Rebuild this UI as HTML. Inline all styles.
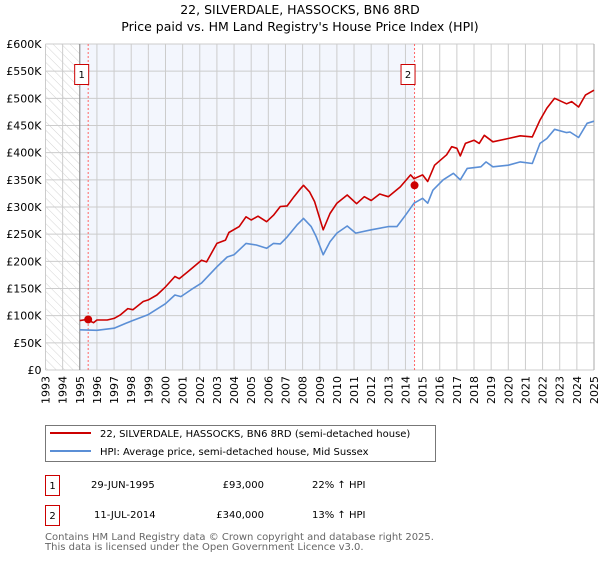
<!DOCTYPE html>
<html><head><meta charset="utf-8"><style>
body{margin:0;background:#fff;width:600px;height:560px;overflow:hidden;font-family:"DejaVu Sans","Liberation Sans",sans-serif}
svg text{font-family:"DejaVu Sans","Liberation Sans",sans-serif}
</style></head><body>
<svg id="chart" width="600" height="560" viewBox="0 0 600 560" xmlns="http://www.w3.org/2000/svg">
<defs><pattern id="hatch" patternUnits="userSpaceOnUse" width="6" height="6" patternTransform="rotate(-45)"><line x1="0" y1="0" x2="0" y2="6" stroke="#d4d4d4" stroke-width="1"/></pattern></defs>
<text x="300" y="14" text-anchor="middle" font-size="12.5">22, SILVERDALE, HASSOCKS, BN6 8RD</text>
<text x="300" y="31" text-anchor="middle" font-size="12.5">Price paid vs. HM Land Registry's House Price Index (HPI)</text>
<g id="plot"></g>
<rect x="45.5" y="425.5" width="390" height="36" fill="#fff" stroke="#777"/>
<line x1="50" y1="433" x2="91" y2="433" stroke="#cc0000" stroke-width="2"/>
<text x="100" y="437" font-size="10">22, SILVERDALE, HASSOCKS, BN6 8RD (semi-detached house)</text>
<line x1="50" y1="451" x2="91" y2="451" stroke="#5b8fd6" stroke-width="2"/>
<text x="100" y="455" font-size="10">HPI: Average price, semi-detached house, Mid Sussex</text>
<g font-size="10">
<rect x="45.5" y="475.5" width="14" height="20" fill="#fff" stroke="#cc0000"/>
<text x="52.5" y="489" text-anchor="middle">1</text>
<text x="91" y="488">29-JUN-1995</text>
<text x="264" y="488" text-anchor="end">£93,000</text>
<text x="312" y="488">22% ↑ HPI</text>
</g>
<g font-size="10">
<rect x="45.5" y="505.5" width="14" height="20" fill="#fff" stroke="#cc0000"/>
<text x="52.5" y="519" text-anchor="middle">2</text>
<text x="94" y="518">11-JUL-2014</text>
<text x="264" y="518" text-anchor="end">£340,000</text>
<text x="312" y="518">13% ↑ HPI</text>
</g>
<text x="45" y="540" font-size="10" fill="#666">Contains HM Land Registry data © Crown copyright and database right 2025.</text>
<text x="45" y="550" font-size="10" fill="#666">This data is licensed under the Open Government Licence v3.0.</text>
</svg>
<script>
const yTicks=[0,50,100,150,200,250,300,350,400,450,500,550,600];
const yTickLabels=["£0","£50K","£100K","£150K","£200K","£250K","£300K","£350K","£400K","£450K","£500K","£550K","£600K"];
const years=[1993,1994,1995,1996,1997,1998,1999,2000,2001,2002,2003,2004,2005,2006,2007,2008,2009,2010,2011,2012,2013,2014,2015,2016,2017,2018,2019,2020,2021,2022,2023,2024,2025];
const hpiT=[1995.0,1996.0,1997.0,1998.0,1999.0,2000.0,2000.55,2000.9,2001.5,2002.1,2003.0,2003.6,2004.0,2004.7,2005.3,2005.9,2006.3,2006.7,2007.1,2007.7,2008.05,2008.5,2008.8,2009.2,2009.6,2010.0,2010.6,2011.1,2012.0,2013.0,2013.5,2014.0,2014.5,2015.0,2015.3,2015.6,2016.2,2016.8,2017.2,2017.6,2018.4,2018.7,2019.1,2020.0,2020.7,2021.4,2021.85,2022.25,2022.7,2023.4,2023.6,2024.1,2024.6,2025.0];
const hpiV=[74,73,77,90,102,122,138,135,148,160,190,208,212,233,230,224,233,232,245,268,279,264,245,212,236,252,265,252,258,264,264,285,307,316,307,331,350,362,350,371,374,383,374,377,383,380,417,426,443,437,438,428,454,458];
const ppT=[1995.0,1995.4,1995.8,1996.0,1996.6,1997.0,1997.35,1997.8,1998.1,1998.7,1999.0,1999.5,2000.0,2000.55,2000.8,2001.3,2002.1,2002.4,2003.0,2003.5,2003.7,2004.3,2004.7,2005.0,2005.4,2005.9,2006.3,2006.7,2007.1,2007.5,2007.8,2008.05,2008.4,2008.7,2009.2,2009.6,2010.0,2010.6,2011.15,2011.6,2012.0,2012.5,2013.0,2013.7,2014.3,2014.5,2015.0,2015.3,2015.7,2016.4,2016.7,2017.0,2017.2,2017.5,2018.0,2018.3,2018.6,2019.1,2020.0,2020.7,2021.4,2021.85,2022.25,2022.7,2023.4,2023.7,2024.1,2024.5,2025.0];
const ppV=[91,93,87,92,92,95,101,113,111,126,129,138,153,172,168,181,202,199,233,239,253,264,282,276,283,273,285,301,302,319,331,340,328,310,258,288,307,322,306,319,312,324,319,337,359,352,359,347,377,396,411,408,394,417,423,417,432,420,426,431,429,460,482,500,490,494,484,506,515];
const sales=[{t:1995.49,v:93,label:"1"},{t:2014.53,v:340,label:"2"}];

const NS="http://www.w3.org/2000/svg";
const L=45.5,R=594,T=44,B=370;
const x=t=>L+(t-1993)/32*(R-L);
const y=v=>B-v/600*(B-T);
const g=document.getElementById('plot');
function el(tag,attrs,parent){const e=document.createElementNS(NS,tag);for(const k in attrs)e.setAttribute(k,attrs[k]);(parent||g).appendChild(e);return e;}
let r=el('rect',{x:L,y:T,width:R-L,height:B-T,fill:'#fff'});


r=el('rect',{x:x(1995),y:T,width:x(sales[1].t)-x(1995),height:B-T,fill:'#f3f6fd'});


r=el('rect',{x:L,y:T,width:x(1995)-L,height:B-T,fill:'url(#hatch)'});


years.forEach(yr=>{
  const l=el('line',{x1:x(yr),x2:x(yr),y1:T,y2:B,stroke:'#ccc','stroke-width':1});
  
  
  const tx=el('text',{x:0,y:0,'font-size':11,'text-anchor':'end',transform:`translate(${x(yr)+4},${B+6}) rotate(-90)`});
  tx.textContent=yr;
  
  
});
yTicks.forEach((v,i)=>{
  const l=el('line',{x1:L,x2:R,y1:y(v),y2:y(v),stroke:'#ccc','stroke-width':1});
  
  
  const tx=el('text',{x:L-4,y:y(v)+4,'font-size':11,'text-anchor':'end'});
  tx.textContent=yTickLabels[i];
  
  
});
let al=el('line',{x1:x(1995),x2:x(1995),y1:T,y2:B,stroke:'#888','stroke-width':1});


al=el('line',{x1:R,x2:R,y1:T,y2:B,stroke:'#aaa','stroke-width':1});


sales.forEach(s=>{
  const l=el('line',{x1:x(s.t),x2:x(s.t),y1:T,y2:B,stroke:'#ff6666','stroke-width':1,'stroke-dasharray':'2,2'});
  
  
});
function path(ts,vs,color,name){
  const d=ts.map((t,i)=>(i?'L':'M')+x(t).toFixed(1)+','+y(vs[i]).toFixed(1)).join('');
  const p=el('path',{d:d,fill:'none',stroke:color,'stroke-width':1.6,'stroke-linejoin':'round'});
  
  
}
path(hpiT,hpiV,'#5b8fd6','hpi-line');
path(ppT,ppV,'#cc0000','price-paid-line');
sales.forEach(s=>{
  const c=el('circle',{cx:x(s.t),cy:y(s.v),r:4,fill:'#cc0000'});
  
  
  const bx=el('rect',{x:x(s.t)-13.5,y:64.5,width:14,height:20,fill:'#fff',stroke:'#cc0000'});
  
  
  const tx=el('text',{x:x(s.t)-6.5,y:78,'font-size':10,'text-anchor':'middle'});
  tx.textContent=s.label;
  
  
});
</script>
</body></html>
